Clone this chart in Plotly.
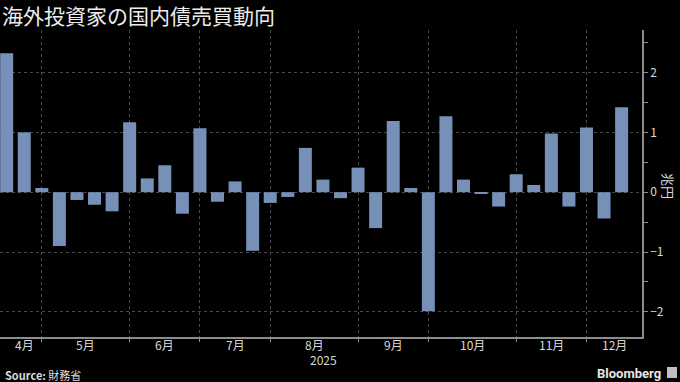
import plotly.graph_objects as go
import pandas as pd

# ---- data ----
week_dates = pd.date_range("2025-04-18", "2025-12-19", freq="7D").strftime("%Y-%m-%d").tolist()
net_purchases = [
    2.32, 1.00, 0.07, -0.90, -0.13, -0.21, -0.32, 1.17, 0.23, 0.45,
    -0.36, 1.07, -0.16, 0.18, -0.98, -0.18, -0.08, 0.74, 0.21, -0.10,
    0.41, -0.60, 1.19, 0.07, -1.99, 1.27, 0.21, -0.02, -0.24, 0.30,
    0.12, 0.98, -0.24, 1.08, -0.44, 1.42,
]
y_ticks = [-2, -1, 0, 1, 2]
title_text = "海外投資家の国内債売買動向"
unit_text = "兆円"
year_text = "2025"
source_text = "<b>Source:</b> 財務省"

# ---- derived positions ----
idx = list(range(len(week_dates)))
months = [int(d[5:7]) for d in week_dates]
boundaries = [i for i in idx[1:] if months[i] != months[i - 1]]
x_range = [-0.38, len(idx) + 0.16]
starts = [0] + boundaries
ends = boundaries + [x_range[1]]
month_labels = [f"{months[s]}月" for s in starts]
label_pos = [(s + e) / 2 for s, e in zip(starts, ends)]

BG = "#000000"
TXT = "#d9d9d9"
GRID = "#4a4a4a"
AXIS = "#8c8c8c"
FONT = "Noto Sans CJK JP, Noto Sans, sans-serif"

H = 382
PT, PB = 30, 337
PW = 642


def py(ypx):
    return (PB - ypx) / (PB - PT)


fig = go.Figure()
fig.add_trace(go.Bar(
    x=idx, y=net_purchases,
    marker=dict(color="#7690b8", line=dict(width=0)),
    hoverinfo="y",
))

annotations = []
for lab, pos in zip(month_labels, label_pos):
    annotations.append(dict(
        x=pos, xref="x", y=py(344.5), yref="paper", text=lab, showarrow=False,
        font=dict(size=12, color=TXT, family=FONT), xanchor="center", yanchor="middle",
    ))

annotations += [
    dict(x=324 / PW, xref="paper", y=py(359.5), yref="paper", text=year_text, showarrow=False,
         font=dict(size=12, color=TXT, family=FONT), xanchor="center", yanchor="middle"),
    dict(x=3 / PW, xref="paper", y=py(375), yref="paper", text=source_text, showarrow=False,
         font=dict(size=11, color=TXT, family=FONT), xanchor="left", yanchor="middle"),
    dict(x=663 / PW, xref="paper", y=py(373), yref="paper", text="<b>Bloomberg</b>", showarrow=False,
         font=dict(size=13, color="#e6e6e6", family="Roboto, Noto Sans, sans-serif"),
         xanchor="right", yanchor="middle"),
    dict(x=669 / PW, xref="paper", y=py(186), yref="paper", text=unit_text, showarrow=False,
         textangle=90, font=dict(size=13, color=TXT, family=FONT), xanchor="center", yanchor="middle"),
]

shapes = [
    dict(type="rect", xref="paper", yref="paper",
         x0=667 / PW, x1=677 / PW, y0=py(378), y1=py(367),
         fillcolor="#bfbfbf", line=dict(width=0)),
]

fig.update_layout(
    width=680, height=382,
    paper_bgcolor=BG, plot_bgcolor=BG,
    margin=dict(l=0, r=680 - PW, t=PT, b=H - PB, pad=0),
    showlegend=False,
    bargap=0.26,
    title=dict(text=title_text, x=2 / 680, xanchor="left", xref="container",
               y=1 - 16.5 / 382, yanchor="middle", yref="container",
               font=dict(size=21, color="#ececec", family=FONT)),
    xaxis=dict(
        range=x_range, tickvals=boundaries, ticktext=[""] * len(boundaries),
        showgrid=True, gridcolor=GRID, griddash="dot", gridwidth=1,
        ticks="outside", ticklen=3, tickcolor=AXIS,
        showline=True, linecolor=AXIS, linewidth=1.5, zeroline=False,
        fixedrange=True,
    ),
    yaxis=dict(
        side="right", range=[-2.42, 2.71], tickvals=y_ticks,
        showgrid=True, gridcolor=GRID, griddash="dot", gridwidth=1,
        ticks="outside", ticklen=4, tickcolor=AXIS,
        minor=dict(dtick=0.5, tick0=0, ticks="outside", ticklen=4, tickcolor=AXIS, showgrid=False),
        showline=True, linecolor=AXIS, linewidth=1.5, zeroline=False,
        tickfont=dict(size=12, color=TXT, family=FONT),
        fixedrange=True,
    ),
    annotations=annotations,
    shapes=shapes,
)

fig.write_html(
    "out.html",
    config={"displayModeBar": False},
    post_script="document.body.style.margin='0';document.body.style.background='#000';",
)
